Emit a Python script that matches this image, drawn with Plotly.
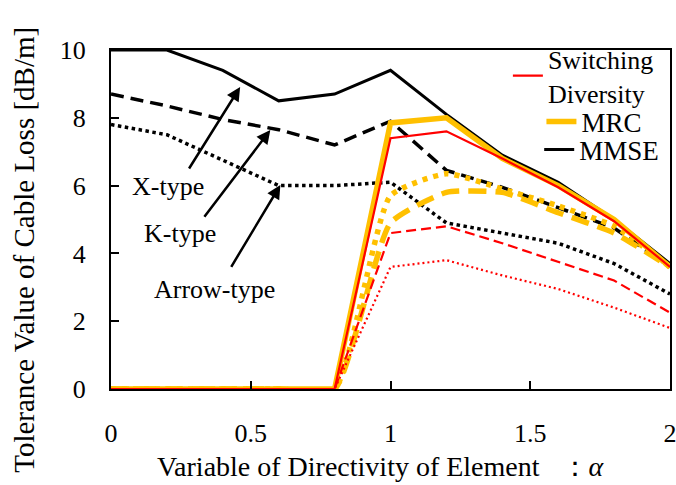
import plotly.graph_objects as go

alpha = [0, 0.2, 0.4, 0.6, 0.8, 1.0, 1.2, 1.4, 1.6, 1.8, 2.0]

mmse_x = [10.0, 10.0, 9.4, 8.5, 8.7, 9.4, 8.1, 6.9, 6.1, 5.0, 3.7]
mmse_k = [8.7, 8.35, 7.95, 7.65, 7.2, 7.9, 6.45, 5.95, 5.35, 4.75, 3.6]
mmse_arrow = [7.8, 7.5, 6.75, 6.0, 6.0, 6.1, 4.9, 4.6, 4.3, 3.7, 2.8]

mrc_x = [0, 0, 0, 0, 0, 7.85, 8.0, 6.8, 6.0, 5.0, 3.6]
mrc_k = [0, 0, 0, 0, 0, 4.9, 5.8, 5.8, 5.2, 4.6, 3.6]
mrc_arrow = [0, 0, 0, 0, 0, 5.7, 6.35, 5.9, 5.4, 4.8, 3.6]

sw_x = [0, 0, 0, 0, 0, 7.4, 7.6, 6.8, 5.95, 4.95, 3.6]
sw_k = [0, 0, 0, 0, 0, 4.6, 4.8, 4.3, 3.75, 3.2, 2.25]
sw_arrow = [0, 0, 0, 0, 0, 3.6, 3.8, 3.35, 2.95, 2.4, 1.8]

xticks = [0, 0.5, 1, 1.5, 2]
xticktext = ["0", "0.5", "1", "1.5", "2"]
yticks = [0, 2, 4, 6, 8, 10]

FONT = "Liberation Serif, Times New Roman, serif"
BLACK = "#000000"
ORANGE = "#FFC000"
RED = "#FF0000"

fig = go.Figure()

# MMSE (black)
fig.add_trace(go.Scatter(x=alpha, y=mmse_k, mode="lines", showlegend=False,
                         line=dict(color=BLACK, width=3.5, dash="13px,7px")))
fig.add_trace(go.Scatter(x=alpha, y=mmse_arrow, mode="lines", showlegend=False,
                         line=dict(color=BLACK, width=3.5, dash="3.5px,3.5px")))
fig.add_trace(go.Scatter(x=alpha, y=mmse_x, mode="lines", name="MMSE", legend="legend3",
                         line=dict(color=BLACK, width=3)))

# MRC (orange)
fig.add_trace(go.Scatter(x=alpha, y=mrc_k, mode="lines", showlegend=False,
                         line=dict(color=ORANGE, width=5.5, dash="18px,9px", shape="spline", smoothing=0.5)))
fig.add_trace(go.Scatter(x=alpha, y=mrc_arrow, mode="lines", showlegend=False,
                         line=dict(color=ORANGE, width=5.5, dash="5px,6px", shape="spline", smoothing=0.5)))
fig.add_trace(go.Scatter(x=alpha, y=mrc_x, mode="lines", name="MRC", legend="legend2",
                         line=dict(color=ORANGE, width=5.5)))

# Switching Diversity (red)
fig.add_trace(go.Scatter(x=alpha, y=sw_k, mode="lines", showlegend=False,
                         line=dict(color=RED, width=2.2, dash="10px,5px")))
fig.add_trace(go.Scatter(x=alpha, y=sw_arrow, mode="lines", showlegend=False,
                         line=dict(color=RED, width=2.2, dash="2px,3px")))
fig.add_trace(go.Scatter(x=alpha, y=sw_x, mode="lines", name="Switching<br>Diversity", legend="legend",
                         line=dict(color=RED, width=2.2)))

# Arrows pointing at the MMSE curves
arrows = [
    dict(tip=(0.462, 8.91), tail=(0.276, 6.46)),
    dict(tip=(0.570, 7.64), tail=(0.330, 5.04)),
    dict(tip=(0.606, 6.02), tail=(0.427, 3.56)),
]
for a in arrows:
    fig.add_annotation(x=a["tip"][0], y=a["tip"][1], ax=a["tail"][0], ay=a["tail"][1],
                       xref="x", yref="y", axref="x", ayref="y", text="",
                       showarrow=True, arrowhead=2, arrowsize=1.1, arrowwidth=2.5,
                       arrowcolor=BLACK, standoff=0, startstandoff=0)

labels = [("X-type", 0.204, 5.96), ("K-type", 0.247, 4.6), ("Arrow-type", 0.369, 2.95)]
for t, lx, ly in labels:
    fig.add_annotation(x=lx, y=ly, xref="x", yref="y", text=t, showarrow=False,
                       font=dict(family=FONT, size=26, color=BLACK))

# axis titles (placed like the reference)
NB = "\u00a0"
fig.add_annotation(x=-0.156, y=0.41, xref="paper", yref="paper", xanchor="center", yanchor="middle",
                   text="Tolerance Value of Cable Loss [dB/m]", textangle=-90, showarrow=False,
                   font=dict(family=FONT, size=29, color=BLACK))
fig.add_annotation(x=0.0787, y=-0.230, xref="paper", yref="paper", xanchor="left", yanchor="middle",
                   text="Variable of Directivity of Element" + NB * 2 + " \uff1a<i>\u03b1</i>",
                   showarrow=False, font=dict(family=FONT, size=28, color=BLACK))

axis_common = dict(showgrid=False, zeroline=False, ticks="inside", ticklen=8, tickwidth=2,
                   tickcolor=BLACK, showline=True, linecolor=BLACK, linewidth=2, mirror=True,
                   automargin=False, ticklabeloverflow="allow",
                   tickfont=dict(family=FONT, size=26, color=BLACK))

fig.update_layout(
    width=676, height=485,
    margin=dict(l=111, r=6, t=50, b=96),
    paper_bgcolor="white", plot_bgcolor="white",
    font=dict(family=FONT, size=26, color=BLACK),
    xaxis=dict(range=[0, 2], tickvals=xticks, ticktext=xticktext, ticklabelstandoff=20,
               **axis_common),
    yaxis=dict(range=[0, 10], tickvals=yticks, ticklabelstandoff=18, **axis_common),
    legend=dict(x=0.710, y=0.924, xanchor="left", yanchor="middle", bgcolor="rgba(0,0,0,0)",
                font=dict(family=FONT, size=26, color=BLACK), borderwidth=0),
    legend2=dict(x=0.770, y=0.788, xanchor="left", yanchor="middle", bgcolor="rgba(0,0,0,0)",
                 font=dict(family=FONT, size=27, color=BLACK), borderwidth=0),
    legend3=dict(x=0.766, y=0.705, xanchor="left", yanchor="middle", bgcolor="rgba(0,0,0,0)",
                 font=dict(family=FONT, size=27, color=BLACK), borderwidth=0),
)

fig.write_html("out.html")
